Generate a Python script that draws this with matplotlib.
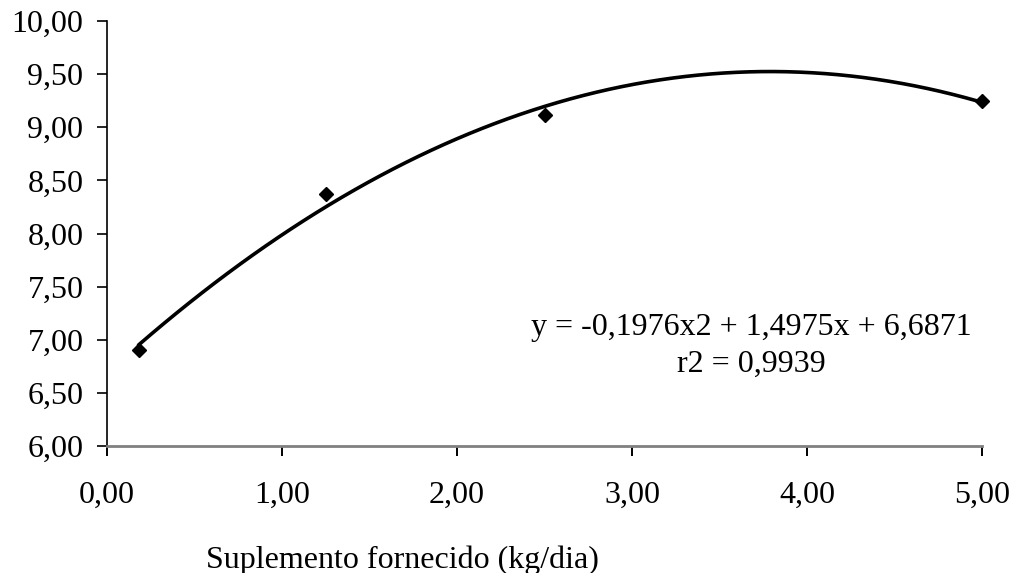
import numpy as np
import matplotlib
matplotlib.use("Agg")
import matplotlib.pyplot as plt

plt.rcParams['font.family'] = ['Liberation Serif', 'DejaVu Serif']

# observed points
supplement = [0.18, 1.25, 2.50, 5.00]
response = [6.90, 8.37, 9.12, 9.25]

# trendline coefficients (as printed on the chart)
coef_a = -0.1976
coef_b = 1.4975
coef_c = 6.6871
r2_text = "0,9939"

x_ticks = [0, 1, 2, 3, 4, 5]
y_ticks = [6.0, 6.5, 7.0, 7.5, 8.0, 8.5, 9.0, 9.5, 10.0]

fs = 23

fig = plt.figure(figsize=(10.17, 5.73), dpi=100)
ax = fig.add_axes([107 / 1017, 1 - 446 / 573, 875 / 1017, 425 / 573])

xs = np.linspace(min(supplement), max(supplement), 200)
ys = coef_a * xs ** 2 + coef_b * xs + coef_c
ax.plot(xs, ys, color='black', lw=2.6, solid_capstyle='round', clip_on=False)
ax.plot(supplement, response, linestyle='none', marker='D', color='black',
        markersize=7.5, clip_on=False, zorder=3)

ax.set_xlim(0, 5)
ax.set_ylim(6, 10)
ax.set_xticks(x_ticks)
ax.set_yticks(y_ticks)
ax.set_xticklabels([f"{v:.2f}".replace('.', ',') for v in x_ticks])
ax.set_yticklabels([f"{v:.2f}".replace('.', ',') for v in y_ticks])

for s in ['top', 'right']:
    ax.spines[s].set_visible(False)
ax.spines['left'].set_color('black')
ax.spines['left'].set_linewidth(1.2)
ax.spines['bottom'].set_color('#808080')
ax.spines['bottom'].set_linewidth(2.0)

ax.tick_params(axis='y', direction='out', length=7, width=1.2, pad=10, labelsize=fs)
ax.tick_params(axis='x', direction='out', length=7, width=1.4, pad=18, labelsize=fs)

eq = (f"y = {coef_a:.4f}x2 + {coef_b:.4f}x + {coef_c:.4f}".replace('.', ',')
      + f"\nr2 = {r2_text}")
ax.text(3.68, 6.94, eq, ha='center', va='center', fontsize=fs, linespacing=1.35)

fig.text(402 / 1017, 1 - 560 / 573, "Suplemento fornecido (kg/dia)", ha='center', va='center',
         fontsize=fs)

fig.savefig("out.png", dpi=100)
